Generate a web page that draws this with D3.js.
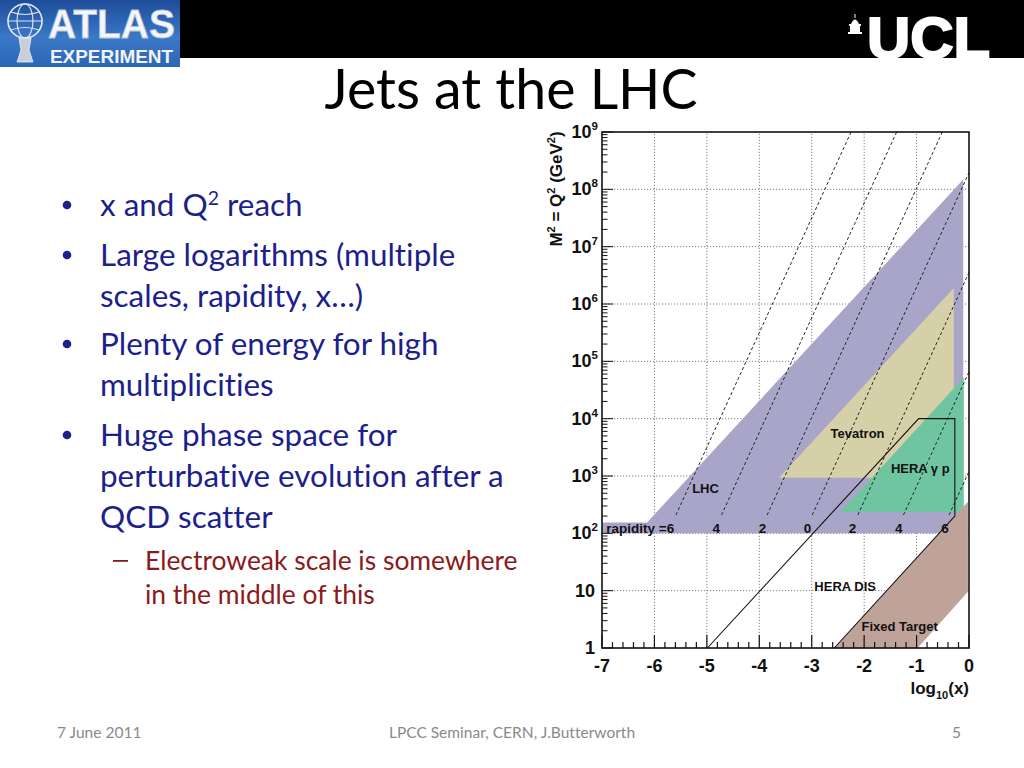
<!DOCTYPE html>
<html><head><meta charset="utf-8">
<script src="https://cdn.jsdelivr.net/npm/d3@7"></script>
<style>html,body{margin:0;padding:0;background:#fff;overflow:hidden} text{font-variant-ligatures:none;font-feature-settings:"liga" 0}</style>
</head><body>
<svg id="c" width="1024" height="768" xmlns="http://www.w3.org/2000/svg"></svg>
<script>
// ---------------- DATA ----------------
const xTicks = [-7, -6, -5, -4, -3, -2, -1, 0];
const xTickLabels = ["-7", "-6", "-5", "-4", "-3", "-2", "-1", "0"];
const yTickExps = [0, 1, 2, 3, 4, 5, 6, 7, 8, 9];
const yTickBase = ["1", "10", "10", "10", "10", "10", "10", "10", "10", "10"];
const yTickSup = ["", "", "2", "3", "4", "5", "6", "7", "8", "9"];

// regions: [log10(x), log10(Q^2)]
const lhcRegion = [[-7, 2], [-7, 2.19], [-6.14, 2.19], [-0.11, 8.17], [-0.11, 2]];
const tevatronRegion = [[-3.62, 2.97], [-0.29, 6.28], [-0.29, 2.97]];
const heraGpRegion = [[-2.45, 2.37], [-0.1, 4.72], [-0.1, 2.37]];
const fixedTargetRegion = [[-2.57, 0], [-0.02, 2.55], [-0.02, 0.98], [-0.98, 0]];
const heraDisOutline = [[-4.99, 0], [-0.96, 4.0], [-0.27, 4.0], [-0.27, 2.30], [-2.57, 0]];

// rapidity lines: start/end points [log10 x, log10 Q^2]
const rapidityStart = [[-5.59, 2.32], [-4.72, 2.32], [-3.85, 2.32], [-2.99, 2.32], [-2.12, 2.32], [-1.25, 2.32], [-0.38, 2.32]];
const rapidityEnd = [[-2.25, 9], [-1.38, 9], [-0.51, 9], [0, 8.29], [0, 6.55], [0, 4.82], [0, 3.08]];
const rapidityLabels = ["rapidity =6", "4", "2", "0", "2", "4", "6"];
const rapidityLabelX = [-5.66, -4.82, -3.94, -3.08, -2.22, -1.34, -0.46];

const regionLabels = ["LHC", "Tevatron", "HERA \u03b3 p", "HERA DIS", "Fixed Target"];
const regionLabelAt = [[-5.28, 2.705], [-2.64, 3.665], [-1.49, 3.05], [-2.95, 0.995], [-2.05, 0.297]];

const titleText = "Jets at the LHC";
const bullets = [
  ["x and Q", "2", " reach"],
  ["Large logarithms (multiple"],
  ["scales, rapidity, x\u2026)"],
  ["Plenty of energy for high"],
  ["multiplicities"],
  ["Huge phase space for"],
  ["perturbative evolution after a"],
  ["QCD scatter"]
];
const bulletStarts = [true, true, false, true, false, true, false, false];
const subBullets = ["Electroweak scale is somewhere", "in the middle of this"];
const footer = ["7 June 2011", "LPCC Seminar, CERN, J.Butterworth", "5"];

// ---------------- DRAW ----------------
const svg = d3.select("#c");
const W = 1024, H = 768;
svg.append("rect").attr("width", W).attr("height", H).attr("fill", "#fff");

// header band & logos
svg.append("rect").attr("x", 180).attr("y", 0).attr("width", 844).attr("height", 58).attr("fill", "#000");
const defs = svg.append("defs");
const g1 = defs.append("linearGradient").attr("id", "atl").attr("x1", 0).attr("y1", 0).attr("x2", 0).attr("y2", 1);
g1.append("stop").attr("offset", "0%").attr("stop-color", "#1d4c9a");
g1.append("stop").attr("offset", "55%").attr("stop-color", "#3a78c8");
g1.append("stop").attr("offset", "100%").attr("stop-color", "#2d66b6");
const atlas = svg.append("g");
atlas.append("rect").attr("x", 0).attr("y", 0).attr("width", 180).attr("height", 67).attr("fill", "url(#atl)");
// globe figure
atlas.append("circle").attr("cx", 25).attr("cy", 21).attr("r", 17).attr("fill", "none").attr("stroke", "#e6e8ee").attr("stroke-width", 1.6);
atlas.append("ellipse").attr("cx", 25).attr("cy", 21).attr("rx", 8).attr("ry", 17).attr("fill", "none").attr("stroke", "#dfe3ea").attr("stroke-width", 1.2);
atlas.append("line").attr("x1", 8).attr("y1", 21).attr("x2", 42).attr("y2", 21).attr("stroke", "#dfe3ea").attr("stroke-width", 1.2);
atlas.append("path").attr("d", "M11,12 Q25,17 39,12 M11,30 Q25,25 39,30").attr("fill", "none").attr("stroke", "#dfe3ea").attr("stroke-width", 1.1);
atlas.append("path").attr("d", "M19,38 L31,38 L29,50 L33,62 L17,62 L21,50 Z").attr("fill", "#c9ced8").attr("stroke", "#eef0f4").attr("stroke-width", 0.8);
atlas.append("text").attr("x", 48).attr("y", 38).attr("font-size", 41)
  .attr("font-family", "Liberation Sans, Arial, sans-serif").attr("font-weight", "bold").attr("fill", "#f4f6fa")
  .attr("stroke", "#b9c3d6").attr("stroke-width", 0.8)
  .attr("textLength", 127).attr("lengthAdjust", "spacingAndGlyphs").text("ATLAS");
atlas.append("text").attr("x", 50).attr("y", 63).attr("font-size", 18)
  .attr("font-family", "Liberation Sans, Arial, sans-serif").attr("font-weight", "bold").attr("fill", "#f2f4f8")
  .attr("textLength", 123).attr("lengthAdjust", "spacingAndGlyphs").text("EXPERIMENT");

// UCL
const ucl = svg.append("g");
ucl.append("path").attr("d", "M848,34 L862,34 L862,32 L860,32 L860,26 L861,26 L861,24 L849,24 L849,26 L850,26 L850,32 L848,32 Z").attr("fill", "#fff");
ucl.append("path").attr("d", "M851,24 Q855,15 859,24 Z").attr("fill", "#fff");
ucl.append("rect").attr("x", 854.5).attr("y", 14).attr("width", 1).attr("height", 4).attr("fill", "#fff");
ucl.append("text").attr("x", 867).attr("y", 58).attr("font-family", "Liberation Sans, Arial, sans-serif").attr("font-weight", "bold")
  .attr("font-size", 57).attr("fill", "#fff").attr("stroke", "#fff").attr("stroke-width", 2)
  .attr("textLength", 123).attr("lengthAdjust", "spacingAndGlyphs").text("UCL");

// Slide text
const slideFont = "Lato, 'Open Sans', sans-serif";
function fitGroup(nodes, targets) {
  let ratio = 0;
  nodes.forEach((n, i) => { ratio += targets[i] / n.getComputedTextLength(); });
  ratio /= nodes.length;
  nodes.forEach(n => {
    const fs = parseFloat(n.getAttribute("font-size"));
    n.setAttribute("font-size", fs * ratio);
    n.querySelectorAll("tspan.sup").forEach(t => t.setAttribute("font-size", fs * ratio * 0.62));
  });
}

const title = svg.append("text").attr("x", 511).attr("y", 109).attr("text-anchor", "middle")
  .attr("font-family", slideFont).attr("font-size", 56).attr("fill", "#000").text(titleText);
fitGroup([title.node()], [373]);

const bulletBaselines = [216, 266, 307, 355, 396, 446, 487, 528];
const bulletTargets = [200, 363, 266, 339, 177, 296, 410, 164];
const bulletNodes = [];
bullets.forEach((parts, i) => {
  const t = svg.append("text").attr("x", 100).attr("y", bulletBaselines[i])
    .attr("font-family", slideFont).attr("font-size", 28).attr("fill", "#1c1f8c");
  parts.forEach((p, j) => {
    if (parts.length > 1 && j === 1) {
      t.append("tspan").attr("class", "sup").attr("dy", -11).attr("font-size", 17).text(p);
    } else if (parts.length > 1 && j === 2) {
      t.append("tspan").attr("dy", 11).text(p);
    } else t.append("tspan").text(p);
  });
  bulletNodes.push(t.node());
  if (bulletStarts[i]) {
    svg.append("circle").attr("cx", 67).attr("cy", bulletBaselines[i] - 11).attr("r", 4.3).attr("fill", "#1c1f8c");
  }
});
fitGroup(bulletNodes, bulletTargets);

const subBaselines = [570, 604];
const subTargets = [371, 231];
const subNodes = subBullets.map((s, i) => svg.append("text").attr("x", 145).attr("y", subBaselines[i])
  .attr("font-family", slideFont).attr("font-size", 24).attr("fill", "#8c1a1c").text(s).node());
fitGroup(subNodes, subTargets);
svg.append("rect").attr("x", 113).attr("y", 560).attr("width", 15).attr("height", 1.8).attr("fill", "#8c1a1c");

// footer
const footFont = "Lato, 'Open Sans', sans-serif";
const f1 = svg.append("text").attr("x", 57).attr("y", 738).attr("font-family", footFont).attr("font-size", 14).attr("fill", "#8a8a8a").text(footer[0]);
const f2 = svg.append("text").attr("x", 512).attr("y", 738).attr("text-anchor", "middle").attr("font-family", footFont).attr("font-size", 14).attr("fill", "#8a8a8a").text(footer[1]);
const f3 = svg.append("text").attr("x", 961).attr("y", 738).attr("text-anchor", "end").attr("font-family", footFont).attr("font-size", 14).attr("fill", "#8a8a8a").text(footer[2]);
fitGroup([f1.node(), f2.node()], [87, 239]);
f3.attr("font-size", f1.attr("font-size"));

// ---------------- CHART ----------------
const x = d3.scaleLinear().domain([-7, 0]).range([602, 969]);
const y = d3.scaleLog().domain([1, 1e9]).range([648, 132]);
const px = d => x(d[0]);
const py = d => y(Math.pow(10, d[1]));
const chartFont = "'Liberation Sans', Arial, Helvetica, sans-serif";
const chart = svg.append("g");

// grid
const grid = chart.append("g").attr("stroke", "#7f7f7f").attr("stroke-width", 1).attr("stroke-dasharray", "1.2,1.8");
grid.selectAll("line.gx").data(xTicks.slice(1, -1)).join("line")
  .attr("x1", d => x(d)).attr("x2", d => x(d)).attr("y1", y(1)).attr("y2", y(1e9));
grid.selectAll("line.gy").data(yTickExps.slice(1, -1)).join("line")
  .attr("y1", d => y(Math.pow(10, d))).attr("y2", d => y(Math.pow(10, d))).attr("x1", x(-7)).attr("x2", x(0));

// regions
const line = d3.line().x(px).y(py);
chart.append("path").attr("d", line(lhcRegion) + "Z").attr("fill", "#a8a5c9");
chart.append("path").attr("d", line(tevatronRegion) + "Z").attr("fill", "#d6d0a9");
chart.append("path").attr("d", line(heraGpRegion) + "Z").attr("fill", "#6fc5a0");
chart.append("path").attr("d", line(fixedTargetRegion) + "Z").attr("fill", "#bfa399");

// rapidity lines
chart.append("g").selectAll("line").data(rapidityStart).join("line")
  .attr("x1", d => px(d)).attr("y1", d => py(d))
  .attr("x2", (d, i) => px(rapidityEnd[i])).attr("y2", (d, i) => py(rapidityEnd[i]))
  .attr("stroke", "#222").attr("stroke-width", 1).attr("stroke-dasharray", "3,2.5");

// HERA DIS outline
chart.append("path").attr("d", line(heraDisOutline)).attr("fill", "none").attr("stroke", "#111").attr("stroke-width", 1.1);

// rapidity labels
chart.append("g").selectAll("text").data(rapidityLabels).join("text")
  .attr("x", (d, i) => x(rapidityLabelX[i])).attr("y", y(100) - 0.5)
  .attr("text-anchor", (d, i) => i === 0 ? "end" : "middle")
  .attr("dx", (d, i) => i === 0 ? 2 : 0)
  .attr("font-family", chartFont).attr("font-weight", "bold").attr("font-size", 13.5).attr("fill", "#111")
  .text(d => d);

// region labels
chart.append("g").selectAll("text").data(regionLabels).join("text")
  .attr("x", (d, i) => px(regionLabelAt[i])).attr("y", (d, i) => py(regionLabelAt[i]))
  .attr("font-family", chartFont).attr("font-weight", "bold").attr("font-size", 13).attr("fill", "#111")
  .text(d => d);

// frame
chart.append("rect").attr("x", x(-7)).attr("y", y(1e9)).attr("width", x(0) - x(-7)).attr("height", y(1) - y(1e9))
  .attr("fill", "none").attr("stroke", "#111").attr("stroke-width", 1.6);

// x ticks (inside, pointing up)
const xMinor = d3.range(-7, 0.001, 0.2);
chart.append("g").selectAll("line").data(xMinor).join("line")
  .attr("x1", d => x(d)).attr("x2", d => x(d)).attr("y1", y(1))
  .attr("y2", d => Math.abs(d - Math.round(d)) < 1e-6 ? y(1) - 13 : y(1) - 6)
  .attr("stroke", "#111").attr("stroke-width", 1.2);
chart.append("g").selectAll("text").data(xTicks).join("text")
  .attr("x", d => x(d)).attr("y", 672).attr("text-anchor", "middle")
  .attr("font-family", chartFont).attr("font-weight", "bold").attr("font-size", 18).attr("fill", "#111")
  .text((d, i) => xTickLabels[i]);

// y ticks (inside, pointing right)
const yMinor = [];
yTickExps.slice(0, -1).forEach(e => { for (let k = 1; k <= 9; k++) yMinor.push(k * Math.pow(10, e)); });
yMinor.push(1e9);
chart.append("g").selectAll("line").data(yMinor).join("line")
  .attr("y1", d => y(d)).attr("y2", d => y(d)).attr("x1", x(-7))
  .attr("x2", d => { const l = Math.log10(d); return Math.abs(l - Math.round(l)) < 1e-9 ? x(-7) + 11 : x(-7) + 5.5; })
  .attr("stroke", "#111").attr("stroke-width", 1);
const yl = chart.append("g").selectAll("text").data(yTickExps).join("text")
  .attr("x", (d, i) => yTickSup[i] ? 598 : 595).attr("y", d => y(Math.pow(10, d)) + 6).attr("text-anchor", "end")
  .attr("font-family", chartFont).attr("font-weight", "bold").attr("font-size", 18).attr("fill", "#111");
yl.append("tspan").text((d, i) => yTickBase[i]);
yl.append("tspan").attr("dy", -8).attr("font-size", 11.5).text((d, i) => yTickSup[i]);

// axis titles
const xt = chart.append("text").attr("x", 969).attr("y", 694).attr("text-anchor", "end")
  .attr("font-family", chartFont).attr("font-weight", "bold").attr("font-size", 17).attr("fill", "#111");
xt.append("tspan").text("log");
xt.append("tspan").attr("dy", 5).attr("font-size", 11).text("10");
xt.append("tspan").attr("dy", -5).text("(x)");

const ytt = chart.append("text").attr("transform", "translate(562,189) rotate(-90)").attr("text-anchor", "middle")
  .attr("font-family", chartFont).attr("font-weight", "bold").attr("font-size", 17).attr("fill", "#111");
ytt.append("tspan").text("M");
ytt.append("tspan").attr("dy", -7).attr("font-size", 11).text("2");
ytt.append("tspan").attr("dy", 7).text(" = Q");
ytt.append("tspan").attr("dy", -7).attr("font-size", 11).text("2");
ytt.append("tspan").attr("dy", 7).text(" (GeV");
ytt.append("tspan").attr("dy", -7).attr("font-size", 11).text("2");
ytt.append("tspan").attr("dy", 7).text(")");
</script>
</body></html>
